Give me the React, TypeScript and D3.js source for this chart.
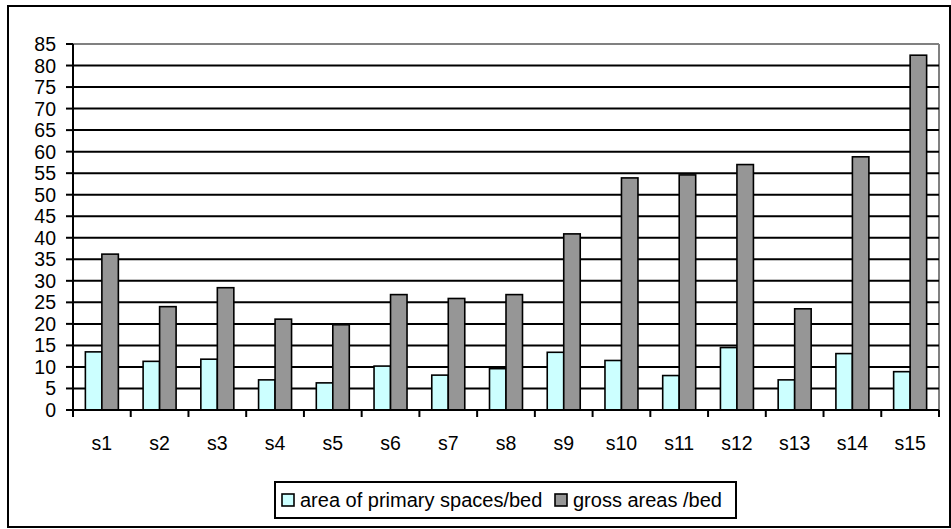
import React from "react";
import * as d3 from "d3";

const categories = ["s1", "s2", "s3", "s4", "s5", "s6", "s7", "s8", "s9", "s10", "s11", "s12", "s13", "s14", "s15"];
const primaryPerBed = [13.5, 11.3, 11.8, 7.0, 6.3, 10.2, 8.1, 9.6, 13.4, 11.5, 8.0, 14.5, 7.0, 13.1, 8.9];
const grossPerBed = [36.2, 24.0, 28.4, 21.1, 19.8, 26.8, 25.9, 26.8, 40.9, 53.9, 54.6, 57.0, 23.5, 58.8, 82.4];
const seriesNames = ["area of primary spaces/bed", "gross areas /bed"];
const seriesColors = ["#CCFFFF", "#969696"];
const yTicks = d3.range(0, 90, 5);

const W = 951;
const H = 529;
const FONT = "'Liberation Sans', Arial, sans-serif";

export default function App() {
  const left = 73;
  const right = 939;
  const top = 44;
  const bottom = 410;

  const x = d3.scaleBand<string>().domain(categories).range([left, right]).paddingInner(0).paddingOuter(0);
  const y = d3.scaleLinear().domain([0, 85]).range([bottom, top]);
  const bw = x.bandwidth();
  const barW = bw / 3.5;
  const gap = (bw - 2 * barW) / 2;

  const series = [primaryPerBed, grossPerBed];

  return (
    <svg width={W} height={H} style={{ position: "absolute", left: 0, top: 0, background: "#fff" }}>
      {/* chart border */}
      <rect x={8} y={6} width={942} height={521} fill="#fff" stroke="#000" strokeWidth={2} />

      {/* plot area frame */}
      <line x1={left} x2={right} y1={top} y2={top} stroke="#808080" strokeWidth={2} />
      <line x1={right} x2={right} y1={top} y2={bottom} stroke="#808080" strokeWidth={2} />

      {/* gridlines */}
      {yTicks.filter((t) => t > 0 && t < 85).map((t) => (
        <line key={t} x1={left} x2={right} y1={y(t)} y2={y(t)} stroke="#000" strokeWidth={2} />
      ))}

      {/* bars */}
      {series.map((vals, si) =>
        vals.map((v, i) => (
          <rect
            key={`${si}-${i}`}
            x={(x(categories[i]) as number) + gap + si * barW}
            y={y(v)}
            width={barW}
            height={bottom - y(v)}
            fill={seriesColors[si]}
            stroke="#000"
            strokeWidth={1.6}
          />
        ))
      )}

      {/* y axis */}
      <line x1={left} x2={left} y1={top} y2={bottom} stroke="#000" strokeWidth={2} />
      {yTicks.map((t) => (
        <g key={t}>
          <line x1={left - 7} x2={left} y1={y(t)} y2={y(t)} stroke="#000" strokeWidth={2} />
          <text x={56} y={y(t)} dy="0.36em" textAnchor="end" fontFamily={FONT} fontSize={19.5} fill="#000">
            {t}
          </text>
        </g>
      ))}

      {/* x axis */}
      <line x1={left} x2={right} y1={bottom} y2={bottom} stroke="#000" strokeWidth={2} />
      {categories.map((c, i) => (
        <line key={c} x1={(x(c) as number)} x2={(x(c) as number)} y1={bottom} y2={bottom + 7} stroke="#000" strokeWidth={2} />
      ))}
      <line x1={right} x2={right} y1={bottom} y2={bottom + 7} stroke="#000" strokeWidth={2} />
      {categories.map((c) => (
        <text key={c} x={(x(c) as number) + bw / 2} y={450} textAnchor="middle" fontFamily={FONT} fontSize={19.5} fill="#000">
          {c}
        </text>
      ))}

      {/* legend */}
      <rect x={275} y={482} width={461} height={36} fill="#fff" stroke="#000" strokeWidth={2} />
      {[282, 555].map((lx, i) => (
        <g key={i}>
          <rect x={lx} y={494} width={12} height={12} fill={seriesColors[i]} stroke="#000" strokeWidth={1.6} />
          <text x={lx + 18} y={507} fontFamily={FONT} fontSize={20} fill="#000">
            {seriesNames[i]}
          </text>
        </g>
      ))}
    </svg>
  );
}
